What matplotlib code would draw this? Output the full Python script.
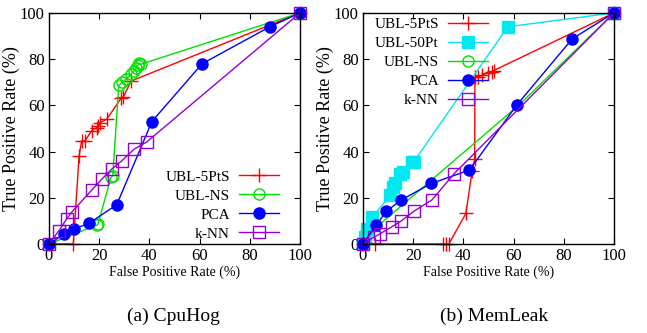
import matplotlib
matplotlib.use("Agg")
import matplotlib.pyplot as plt
from matplotlib.lines import Line2D

plt.rcParams['font.family'] = ['Liberation Serif', 'DejaVu Serif']

# (a) CpuHog
cpu_5pts_x = [0, 9.7, 12, 13, 14.3, 17, 19, 19.7, 20.3, 23, 28.7, 29.6, 32.7, 100]
cpu_5pts_y = [0, 0, 38, 44.6, 44.6, 49, 50.4, 51, 52.5, 54, 63, 63.6, 70.5, 100]
cpu_ns_x = [0, 19.2, 19.5, 24.7, 25.4, 27.8, 29.2, 30.6, 32.6, 34, 34.8, 35.4, 36, 36.6, 100]
cpu_ns_y = [0, 8.2, 8.6, 28.8, 29.5, 68.6, 70, 71.2, 73.4, 75, 76, 77.4, 78.2, 77.8, 100]
cpu_pca_x = [0, 6.1, 10, 16, 27, 41, 61, 88, 100]
cpu_pca_y = [0, 4.3, 6.5, 9, 17, 53, 78, 94, 100]
cpu_knn_x = [0, 4, 7, 9, 17, 21, 25, 29, 33.9, 39, 100]
cpu_knn_y = [0, 5.8, 10.8, 13.7, 23.3, 28, 32.4, 36, 41, 44.2, 100]

# (b) MemLeak
mem_5pts_x = [0, 4.9, 32, 33, 34.2, 41, 43.5, 44.5, 44.6, 45.8, 47.5, 49.8, 51.3, 52, 100]
mem_5pts_y = [0, 0, 0, 0, 0, 13.2, 31.7, 36.7, 72.4, 72.4, 73, 74.2, 74.6, 75, 100]
mem_50pt_x = [0, 1, 1.6, 3.6, 10.9, 12, 12.9, 14.9, 16, 19.5, 20.2, 57.7, 100]
mem_50pt_y = [0, 2.9, 6.5, 11.5, 21, 24.5, 26.6, 30.2, 31.2, 35.3, 35.5, 94, 100]
mem_ns_x = [0, 4, 62, 100]
mem_ns_y = [0, 6, 60, 100]
mem_pca_x = [0, 5.3, 9.3, 15.3, 27.3, 42.4, 61.4, 83.4, 100]
mem_pca_y = [0, 8.2, 14.1, 19.1, 26.2, 32, 60.3, 88.8, 100]
mem_knn_x = [0, 4.3, 6.6, 11.6, 15.3, 20.2, 27.5, 36.4, 100]
mem_knn_y = [0, 2.9, 4.3, 7.5, 10, 14.1, 19.1, 30.5, 100]

RED = '#ff0000'
GREEN = '#00e000'
BLUE = '#0000ff'
PURPLE = '#9400d3'
CYAN = '#00e8f0'

fig = plt.figure(figsize=(6.47, 3.33), dpi=100)
ax1 = fig.add_axes([0.0757, 0.2673, 0.388, 0.694])
ax2 = fig.add_axes([0.561, 0.2673, 0.388, 0.694])


def style_axes(ax):
    ax.set_xlim(0, 100)
    ax.set_ylim(0, 100)
    ax.set_xticks(range(0, 101, 20))
    ax.set_yticks(range(0, 101, 20))
    ax.tick_params(direction='in', top=True, right=True, length=4,
                   labelsize=12, pad=3)
    ax.set_xlabel('False Positive Rate (%)', fontsize=10, labelpad=1)
    ax.set_ylabel('True Positive Rate (%)', fontsize=13, labelpad=0)
    for sp in ax.spines.values():
        sp.set_linewidth(1.0)


kw = dict(linewidth=1.0, clip_on=False)
red_kw = dict(color=RED, marker='+', markersize=10, markeredgewidth=1.0)
ns_kw = dict(color=GREEN, marker='o', markersize=8, markerfacecolor='none',
             markeredgewidth=1.0)
pca_kw = dict(color=BLUE, marker='o', markersize=8)
knn_kw = dict(color=PURPLE, marker='s', markersize=8, markerfacecolor='none',
              markeredgewidth=1.0)
cyan_kw = dict(color=CYAN, marker='s', markersize=8)

leg_kw = dict(frameon=False, markerfirst=False, fontsize=11, handlelength=2.6,
              labelspacing=0.35, handletextpad=0.6)

ax1.plot(cpu_5pts_x, cpu_5pts_y, label='UBL-5PtS', **red_kw, **kw)
ax1.plot(cpu_ns_x, cpu_ns_y, label='UBL-NS', **ns_kw, **kw)
ax1.plot(cpu_pca_x, cpu_pca_y, label='PCA', **pca_kw, **kw)
ax1.plot(cpu_knn_x, cpu_knn_y, label='k-NN', **knn_kw, **kw)
style_axes(ax1)
ax1.legend(loc='lower right', bbox_to_anchor=(0.97, -0.045), **leg_kw)

ax2.plot(mem_5pts_x, mem_5pts_y, **red_kw, **kw)
ax2.plot(mem_50pt_x, mem_50pt_y, **cyan_kw, **kw)
# UBL-NS line in MemLeak shows no markers
ax2.plot(mem_ns_x, mem_ns_y, color=GREEN, **kw)
ax2.plot(mem_pca_x, mem_pca_y, **pca_kw, **kw)
ax2.plot(mem_knn_x, mem_knn_y, **knn_kw, **kw)
style_axes(ax2)
handles = [Line2D([], [], lw=1.0, **red_kw),
           Line2D([], [], lw=1.0, **cyan_kw),
           Line2D([], [], lw=1.0, **ns_kw),
           Line2D([], [], lw=1.0, **pca_kw),
           Line2D([], [], lw=1.0, **knn_kw)]
labels = ['UBL-5PtS', 'UBL-50Pt', 'UBL-NS', 'PCA', 'k-NN']
ax2.legend(handles, labels, loc='upper left', bbox_to_anchor=(-0.01, 1.04),
           **leg_kw)

fig.text(0.197, 0.035, '(a) CpuHog', fontsize=14)
fig.text(0.68, 0.035, '(b) MemLeak', fontsize=14)

fig.savefig('out.png', dpi=100)
